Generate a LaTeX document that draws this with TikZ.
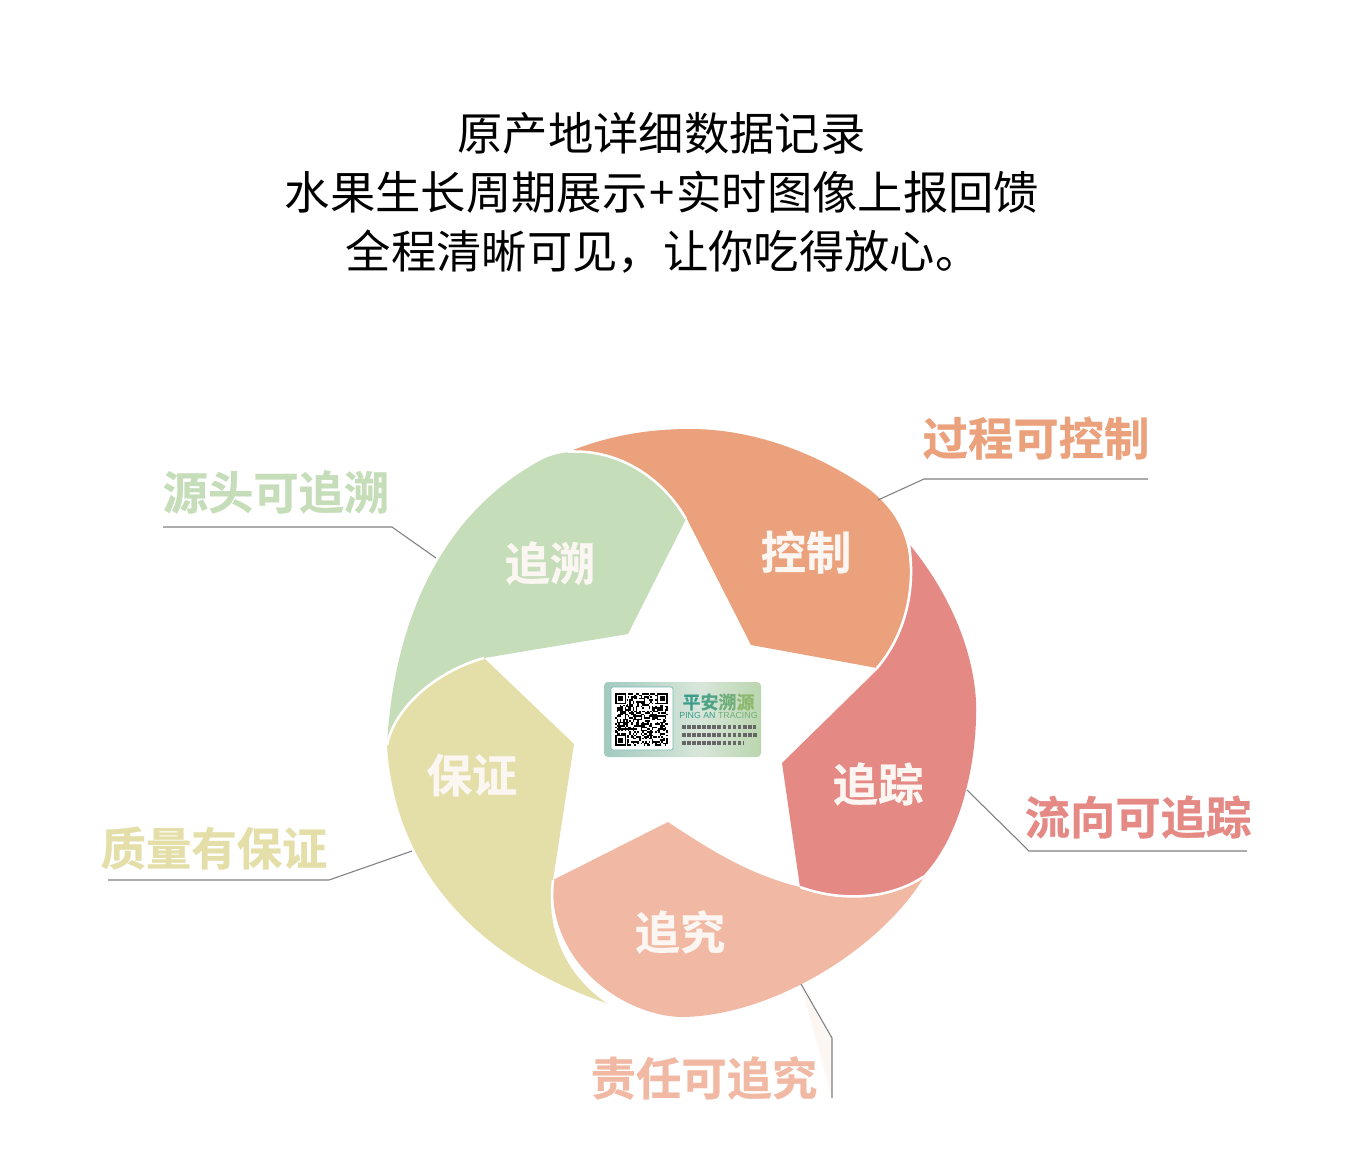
\documentclass[tikz,border=0pt]{standalone}
\usepackage{fontspec}
\setmainfont{Noto Sans CJK SC}
\newfontfamily\cjkb[BoldFont={Noto Sans CJK SC Bold},BoldFeatures={FakeBold=0.6}]{Noto Sans CJK SC}
\newfontfamily\latinf{Liberation Sans}
\definecolor{cgreen}{HTML}{C6DDB9}
\definecolor{corange}{HTML}{EBA17C}
\definecolor{cred}{HTML}{E58985}
\definecolor{csalmon}{HTML}{F1B9A3}
\definecolor{cyellow}{HTML}{E4DFA8}
\definecolor{cline}{HTML}{808080}
\definecolor{cinner}{HTML}{FBF6F2}
\definecolor{qrteal}{HTML}{A3CABF}
\definecolor{qrpale}{HTML}{D8E6DA}
\definecolor{qrgreen}{HTML}{BAD6AE}
\definecolor{ta}{HTML}{3A9C8A}
\definecolor{tb}{HTML}{4DA384}
\definecolor{tc}{HTML}{6FAE7A}
\definecolor{td}{HTML}{8DB86E}
\tikzset{
  x=0.75pt,y=-0.75pt,
  seam/.style={white,line width=1.9pt},
  leader/.style={cline,line width=0.8pt},
  titletext/.style={font=\fontsize{34pt}{42pt}\selectfont,inner sep=0,black},
  outerlabel/.style={font=\cjkb\bfseries\fontsize{34pt}{36pt}\selectfont,inner sep=0},
  innerlabel/.style={font=\cjkb\bfseries\fontsize{34pt}{36pt}\selectfont,inner sep=0,text=cinner},
}
\begin{document}
\begin{tikzpicture}
\useasboundingbox (0,0) rectangle (1360,1172);
\fill[white] (0,0) rectangle (1360,1172);
% title
\node[titletext] (t1) at (661.5,133) {原产地详细数据记录};
\node[titletext] (t2) at (662,192) {水果生长周期展示\kern1.5pt+\kern1.5pt实时图像上报回馈};
\node[titletext] (t3) at (663,252) {全程清晰可见，让你吃得放心。};
% faint wedge
\fill[csalmon!12] (801,985) -- (832,1038) -- (832,1098) -- cycle;
% petals
\fill[corange] (568,452) .. controls (610,435) and (650,429) .. (690,429)
  .. controls (760,429) and (825,458) .. (870,490)
  .. controls (890,506) and (903,525) .. (908,550)
  .. controls (915,590) and (905,635) .. (877,668) -- (751,645) -- (687,519)
  .. controls (665,482) and (625,452) .. (575,452) -- cycle;
\fill[cred] (910,545) .. controls (955,600) and (979,665) .. (976,720)
  .. controls (974,775) and (958,840) .. (922,877)
  .. controls (885,902) and (835,900) .. (800,887) -- (782,763) -- (877,670)
  .. controls (905,635) and (916,590) .. cycle;
\fill[csalmon] (924,877) .. controls (880,950) and (770,1017) .. (680,1017)
  .. controls (625,1015) and (548,965) .. (553,880) -- (668,822)
  .. controls (710,850) and (750,875) .. (800,887)
  .. controls (835,900) and (885,902) .. cycle;
\fill[cyellow] (612,1005) .. controls (490,965) and (395,880) .. (387,745)
  .. controls (395,705) and (440,670) .. (484,658) -- (574,744) -- (553,880)
  .. controls (546,945) and (580,985) .. cycle;
\fill[cgreen] (387,745) .. controls (392,650) and (425,520) .. (545,458)
  .. controls (555,454) and (565,452) .. (575,452)
  .. controls (625,452) and (665,482) .. (686,519)
  -- (628,634) -- (484,658) .. controls (440,670) and (395,705) .. cycle;
% white seams
\draw[seam] (568,451.5) -- (575,451.5) .. controls (625,451.5) and (665,482) .. (686,519);
\draw[seam] (909,545) .. controls (916,590) and (905,635) .. (877,668);
\draw[seam] (800,887) .. controls (835,900) and (885,902) .. (923,877);
\draw[seam] (553,880) .. controls (546,945) and (580,985) .. (612,1005);
\draw[seam] (484,658) .. controls (440,670) and (395,705) .. (387,745);
% inner labels
\node[innerlabel] (in1) at (550,563) {追溯};
\node[innerlabel] (in2) at (806,552) {控制};
\node[innerlabel] (in3) at (878,784) {追踪};
\node[innerlabel] (in4) at (472,775) {保证};
\node[innerlabel] (in5) at (680,932) {追究};
% outer labels
\node[outerlabel,text=corange] (out2) at (1036,438) {过程可控制};
\node[outerlabel,text=cgreen] (out1) at (276,492) {源头可追溯};
\node[outerlabel,text=cred] (out3) at (1138,817) {流向可追踪};
\node[outerlabel,text=cyellow] (out4) at (214,848) {质量有保证};
\node[outerlabel,text=csalmon] (out5) at (704,1078) {责任可追究};
% leaders
\coordinate (la) at (878,500); \coordinate (lb) at (924,479); \coordinate (lc) at (1148,479);
\draw[leader] (la) -- (lb) -- (lc);
\coordinate (ga) at (436,558); \coordinate (gb) at (392,527); \coordinate (gc) at (163,527);
\draw[leader] (ga) -- (gb) -- (gc);
\coordinate (ra) at (967,790); \coordinate (rb) at (1029,851); \coordinate (rc) at (1247,851);
\draw[leader] (ra) -- (rb) -- (rc);
\coordinate (ya) at (412,851); \coordinate (yb) at (329,880); \coordinate (yc) at (108,880);
\draw[leader] (ya) -- (yb) -- (yc);
\coordinate (sa) at (801,984); \coordinate (sb) at (832,1038); \coordinate (sc) at (832,1098);
\draw[leader] (sa) -- (sb) -- (sc);
% label card
\begin{scope}
\clip[rounded corners=3pt] (604,682) rectangle (761,757);
\shade[left color=qrteal,right color=qrpale] (604,682) rectangle (700,757);
\shade[left color=qrpale,right color=qrgreen] (700,682) rectangle (761,757);
\end{scope}
\fill[white,draw=ta!70,line width=0.5pt,rounded corners=1.5pt] (611,687) rectangle (673,750);
\pgfmathsetseed{4242}
\foreach \i in {0,...,32}{
  \foreach \j in {0,...,32}{
    \pgfmathparse{rnd>0.5?1:0}
    \ifnum\pgfmathresult=1
      \fill[black] ({615+\i*1.6},{693+\j*1.6}) rectangle +(1.6,1.6);
    \fi
  }
}
\foreach \qx/\qy in {615/693,656.8/693,615/734.8}{
  \fill[white] (\qx-0.3,\qy-0.3) rectangle +(12.4,12.4);
  \fill[black] (\qx,\qy) rectangle +(11.2,11.2);
  \fill[white] (\qx+1.6,\qy+1.6) rectangle +(8,8);
  \fill[black] (\qx+3.2,\qy+3.2) rectangle +(4.8,4.8);
}
\node[inner sep=0,font=\cjkb\bfseries\fontsize{13.5pt}{14pt}\selectfont] (cardtitle) at (718.5,702) {\textcolor{ta}{平}\textcolor{tb}{安}\textcolor{tc}{溯}\textcolor{td}{源}};
\node[inner sep=0,font=\latinf\fontsize{6.6pt}{7pt}\selectfont] (cardsub) at (718.5,715) {\textcolor{ta}{PING AN} \textcolor{tc}{TRACING}};
\foreach \ly/\lx in {727/756,735/757,743/744}{
  \draw[black!60,line width=2.3pt,dash pattern=on 2.8pt off 1pt] (682,\ly) -- (\lx,\ly);
}
\end{tikzpicture}
\end{document}
